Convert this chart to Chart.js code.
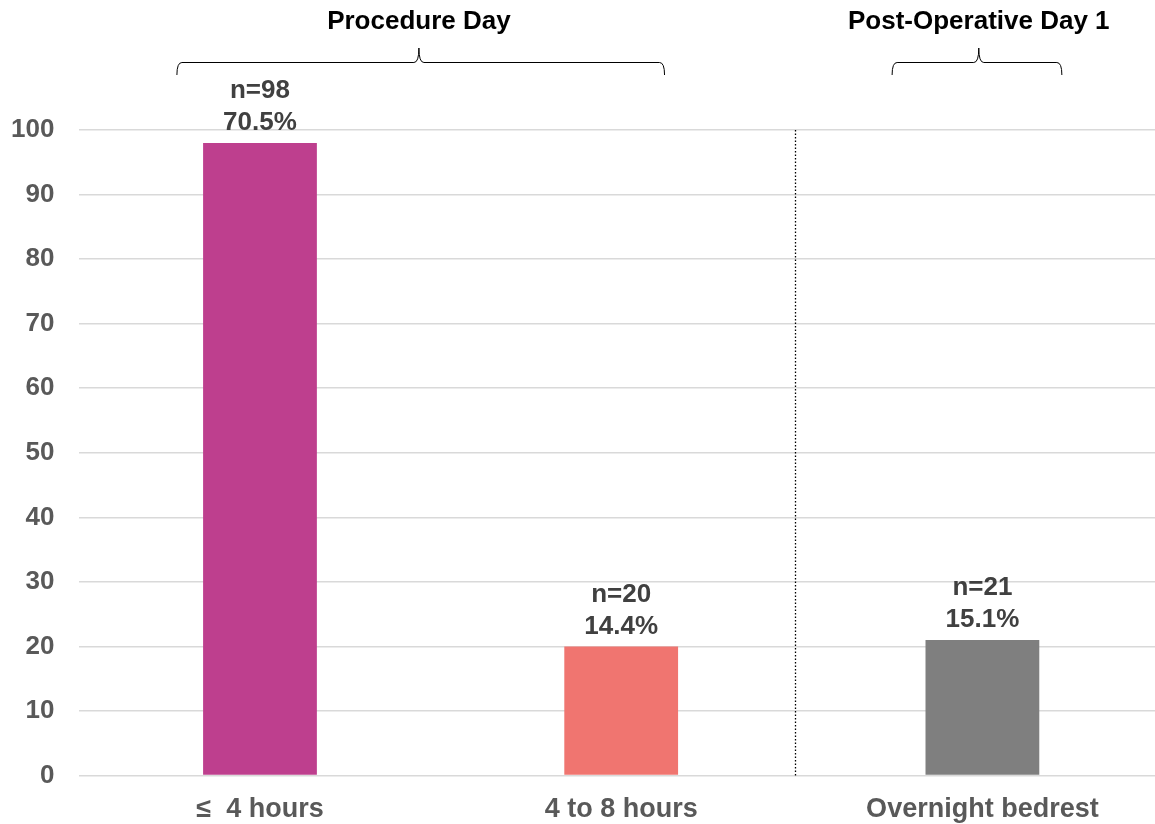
<!DOCTYPE html>
<html>
<head>
<meta charset="utf-8">
<script src="https://cdn.jsdelivr.net/npm/chart.js@4"></script>
<style>
    html, body { margin: 0; padding: 0; background: #fff; overflow: hidden; }
    #wrap { width: 1163px; height: 824px; }
</style>
</head>
<body>
<div id="wrap"><canvas id="chart"></canvas></div>
<script>
const categories = ["\u2264  4 hours", "4 to 8 hours", "Overnight bedrest"];
const counts = [98, 20, 21];
const percents = ["70.5%", "14.4%", "15.1%"];
const barColors = ["#BE3F8E", "#F07570", "#7F7F7F"];
const yTicks = [0, 10, 20, 30, 40, 50, 60, 70, 80, 90, 100];

// group brackets, in category units: start, middle, end
const groups = [
    { title: "Procedure Day", from: -0.23, mid: 0.44, to: 1.12 },
    { title: "Post-Operative Day 1", from: 1.75, mid: 1.99, to: 2.22 }
];
const dividerAt = 1.48;
const FONT = "'Liberation Sans', Arial, sans-serif";

const extras = {
    id: "extras",
    afterDatasetsDraw( chart ) {
        const ctx = chart.ctx;
        const x = chart.scales.x;
        const area = chart.chartArea;

        // dotted divider
        ctx.save();
        ctx.strokeStyle = "#000";
        ctx.lineWidth = 1.3;
        ctx.setLineDash( [1.5, 2] );
        const dx = Math.round( x.getPixelForValue( dividerAt ) ) + 0.5;
        ctx.beginPath();
        ctx.moveTo( dx, area.top );
        ctx.lineTo( dx, area.bottom );
        ctx.stroke();
        ctx.restore();

        // value labels
        ctx.save();
        ctx.fillStyle = "#404040";
        ctx.font = "bold 26px " + FONT;
        ctx.textAlign = "center";
        ctx.textBaseline = "middle";
        chart.getDatasetMeta( 0 ).data.forEach( ( bar, i ) => {
            ctx.fillText( "n=" + counts[i], bar.x, bar.y - 52 );
            ctx.fillText( percents[i], bar.x, bar.y - 20 );
        } );
        ctx.restore();

        // brackets and titles
        ctx.save();
        ctx.strokeStyle = "#000";
        ctx.lineWidth = 1;
        ctx.fillStyle = "#000";
        ctx.font = "bold 26px " + FONT;
        ctx.textAlign = "center";
        ctx.textBaseline = "middle";
        groups.forEach( g => {
            const x1 = x.getPixelForValue( g.from );
            const xm = x.getPixelForValue( g.mid );
            const x2 = x.getPixelForValue( g.to );
            const top = 62.5, end = 75, peak = 48;
            ctx.beginPath();
            ctx.moveTo( x1, end );
            ctx.quadraticCurveTo( x1, top, x1 + 5, top );
            ctx.lineTo( xm - 5, top );
            ctx.quadraticCurveTo( xm, top, xm, peak );
            ctx.quadraticCurveTo( xm, top, xm + 5, top );
            ctx.lineTo( x2 - 5, top );
            ctx.quadraticCurveTo( x2, top, x2, end );
            ctx.stroke();
            ctx.fillText( g.title, xm, 22 );
        } );
        ctx.restore();
    }
};

new Chart( document.getElementById( "chart" ), {
    type: "bar",
    data: {
        labels: categories,
        datasets: [{
            data: counts,
            backgroundColor: barColors,
            barPercentage: 0.315,
            categoryPercentage: 1
        }]
    },
    options: {
        responsive: true,
        maintainAspectRatio: false,
        animation: false,
        layout: { padding: { top: 130, left: -14, right: 0, bottom: -20 } },
        plugins: {
            legend: { display: false },
            tooltip: { enabled: false }
        },
        scales: {
            x: {
                grid: { display: false, drawTicks: false },
                border: { display: false },
                ticks: {
                    color: "#595959",
                    padding: 18,
                    font: { family: FONT, size: 27, weight: "bold" }
                }
            },
            y: {
                min: 0,
                max: 100,
                afterBuildTicks( axis ) {
                    axis.ticks = yTicks.map( v => ( { value: v } ) );
                },
                grid: { color: "#d9d9d9", lineWidth: 1.5, drawTicks: false },
                border: { display: false },
                ticks: {
                    color: "#595959",
                    padding: 25,
                    font: { family: FONT, size: 26, weight: "bold" }
                }
            }
        }
    },
    plugins: [extras]
} );
</script>
</body>
</html>
